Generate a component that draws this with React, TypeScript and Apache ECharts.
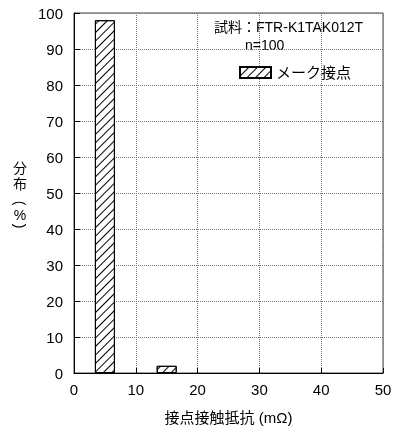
import React, { useEffect, useRef } from "react";
import * as echarts from "echarts";

const binCenters = [5, 15];
const distribution = [98, 2];
const seriesName = "メーク接点";
const sampleText = "試料：FTR-K1TAK012T";
const countText = "n=100";
const xAxisName = "接点接触抵抗 (mΩ)";
const yAxisChars = ["分", "布", "(", "%", ")"];

const FONT = "'Liberation Sans', 'Noto Sans CJK JP', sans-serif";

export default function App() {
  const ref = useRef<HTMLDivElement>(null);
  useEffect(() => {
    if (!ref.current) return;
    const chart = echarts.init(ref.current, null, { renderer: "svg" });
    const decal = {
      symbol: "rect",
      symbolSize: 1,
      dashArrayX: [1, 0],
      dashArrayY: [1, 5],
      rotation: -Math.PI / 4,
      color: "#000",
      backgroundColor: "#fff",
    };
    const yText = (i: number, y: number, rot = 0) => ({
      type: "text",
      x: 20,
      y,
      rotation: rot,
      style: {
        text: yAxisChars[i],
        font: `14px ${FONT}`,
        fill: "#000",
        align: "center",
        verticalAlign: "middle",
      },
    });
    chart.setOption({
      animation: false,
      aria: { enabled: true, decal: { show: true } },
      grid: {
        left: 74,
        right: 17,
        top: 13,
        bottom: 59,
        outerBoundsMode: "none",
        containLabel: false,
        show: true,
        borderColor: "#444",
        borderWidth: 1,
        backgroundColor: "transparent",
      },
      legend: {
        data: [seriesName],
        left: 239,
        top: 65,
        padding: 0,
        itemWidth: 31,
        itemHeight: 11,
        itemGap: 7,
        icon: "rect",
        textStyle: { fontFamily: FONT, fontSize: 15, color: "#000" },
      },
      graphic: [
        {
          type: "text",
          left: 214,
          top: 20,
          style: { text: sampleText, font: `14px ${FONT}`, fill: "#000" },
        },
        {
          type: "text",
          left: 245,
          top: 38,
          style: { text: countText, font: `14px ${FONT}`, fill: "#000" },
        },
        yText(0, 168),
        yText(1, 184),
        yText(2, 203, -Math.PI / 2),
        yText(3, 215),
        yText(4, 226, -Math.PI / 2),
      ],
      xAxis: {
        type: "value",
        min: 0,
        max: 50,
        interval: 10,
        name: xAxisName,
        nameLocation: "middle",
        nameGap: 37,
        nameTextStyle: { fontFamily: FONT, fontSize: 15, color: "#000" },
        axisLine: { show: true, lineStyle: { color: "#000", width: 1 } },
        axisTick: { show: true, inside: true, length: 5, lineStyle: { color: "#000" } },
        axisLabel: { fontFamily: FONT, fontSize: 15, color: "#000", margin: 9 },
        splitLine: { show: true, lineStyle: { type: "dotted", color: "#777", width: 1 } },
      },
      yAxis: {
        type: "value",
        min: 0,
        max: 100,
        interval: 10,
        axisLine: { show: true, lineStyle: { color: "#000", width: 1 } },
        axisTick: { show: true, inside: true, length: 6, lineStyle: { color: "#000" } },
        axisLabel: { fontFamily: FONT, fontSize: 15, color: "#000", margin: 11 },
        splitLine: { show: true, lineStyle: { type: "dotted", color: "#777", width: 1 } },
      },
      series: [
        {
          name: seriesName,
          type: "bar",
          barWidth: 20,
          data: binCenters.map((c, i) => [c, distribution[i]]),
          itemStyle: {
            color: "#fff",
            borderColor: "#000",
            borderWidth: 1,
            decal,
          },
        },
      ],
    });
    return () => chart.dispose();
  }, []);
  return (
    <div
      ref={ref}
      style={{ position: "fixed", left: 0, top: 0, width: 400, height: 432 }}
    />
  );
}
